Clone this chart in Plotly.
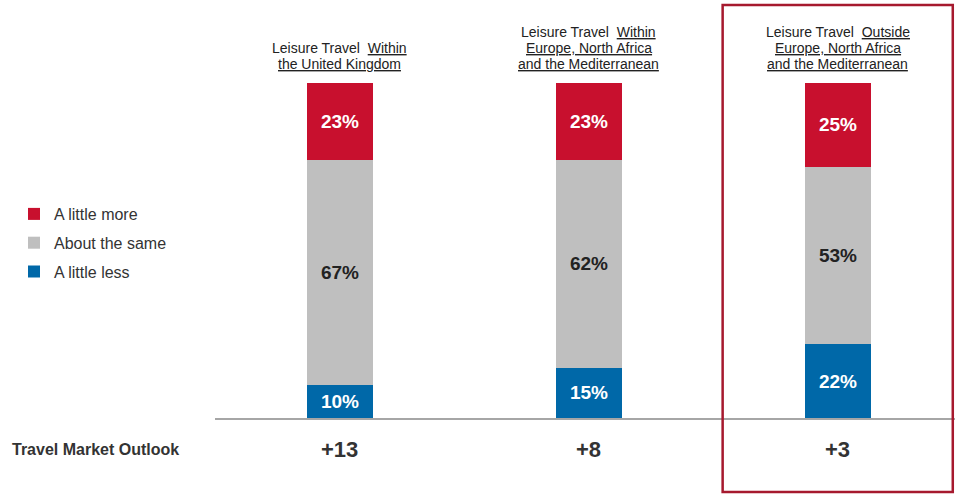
import plotly.graph_objects as go

categories = ["UK", "Europe", "Outside"]
heading_lines = [
    ["Leisure Travel  <u>Within</u>", "<u>the United Kingdom</u>"],
    ["Leisure Travel  <u>Within</u>", "<u>Europe, North Africa</u>", "<u>and the Mediterranean</u>"],
    ["Leisure Travel  <u>Outside</u>", "<u>Europe, North Africa</u>", "<u>and the Mediterranean</u>"],
]
a_little_less = [10, 15, 22]
about_the_same = [67, 62, 53]
a_little_more = [23, 23, 25]
outlook = [m - l for m, l in zip(a_little_more, a_little_less)]

xpos = list(range(len(categories)))
FONT = "Liberation Sans, Arial, sans-serif"

fig = go.Figure()
series = [
    ("A little less", a_little_less, "#0068A8", "white", 3),
    ("About the same", about_the_same, "#BFBFBF", "#222222", 2),
    ("A little more", a_little_more, "#C8102E", "white", 1),
]
for name, vals, col, tcol, rank in series:
    fig.add_trace(go.Bar(
        x=xpos, y=vals, name=name, marker=dict(color=col, line=dict(width=0)),
        width=0.262, texttemplate="%{y}%", textposition="inside",
        insidetextanchor="middle", constraintext="none",
        textfont=dict(color=tcol, size=19, family=FONT, weight="bold"),
        legendgroup=name, legendrank=rank, hoverinfo="skip",
    ))

# heading lines: bottom line centre ~64px, spacing 16px (plot top at 83px, height 335px)
for i, lines in enumerate(heading_lines):
    n = len(lines)
    for j, line in enumerate(lines):
        ypix = 64 - (n - 1 - j) * 16
        fig.add_annotation(x=xpos[i], y=(418 - ypix) / 335, xref="x", yref="paper",
                           text=line, showarrow=False, yanchor="middle", xanchor="center",
                           borderpad=0,
                           font=dict(size=14, color="#222222", family=FONT))
    fig.add_annotation(x=xpos[i], y=-0.093, xref="x", yref="paper",
                       text="+%d" % outlook[i], showarrow=False,
                       yanchor="middle", xanchor="center",
                       font=dict(size=22, color="#333333", family=FONT, weight="bold"))

fig.add_annotation(x=-0.277, y=-0.093, xref="paper", yref="paper",
                   text="Travel Market Outlook", showarrow=False,
                   xanchor="left", yanchor="middle",
                   font=dict(size=16, color="#333333", family=FONT, weight="bold"))

fig.add_shape(type="rect", xref="paper", yref="paper",
              x0=0.686, x1=0.997, y0=-0.221, y1=1.233,
              line=dict(color="#A6192E", width=2.5), fillcolor="rgba(0,0,0,0)")

fig.update_layout(
    barmode="stack",
    width=955, height=495,
    margin=dict(l=215, r=0, t=83, b=77, autoexpand=False),
    paper_bgcolor="white", plot_bgcolor="white",
    font=dict(family=FONT, color="#333333"),
    legend=dict(x=(14 - 215) / 740, y=(418 - 197) / 335, xanchor="left", yanchor="top",
                traceorder="grouped", tracegroupgap=5,
                font=dict(size=16, color="#333333", family=FONT),
                itemwidth=30, bgcolor="rgba(0,0,0,0)"),
    xaxis=dict(range=[-0.502, 2.47], showticklabels=False, showgrid=False,
               zeroline=False, showline=True, linecolor="#A6A6A6", linewidth=1.5,
               ticks=""),
    yaxis=dict(range=[0, 100], visible=False),
    showlegend=True,
)

fig.write_html("out.html", config={"displayModeBar": False},
               post_script="document.body.style.margin='0';document.body.style.overflow='hidden';")
